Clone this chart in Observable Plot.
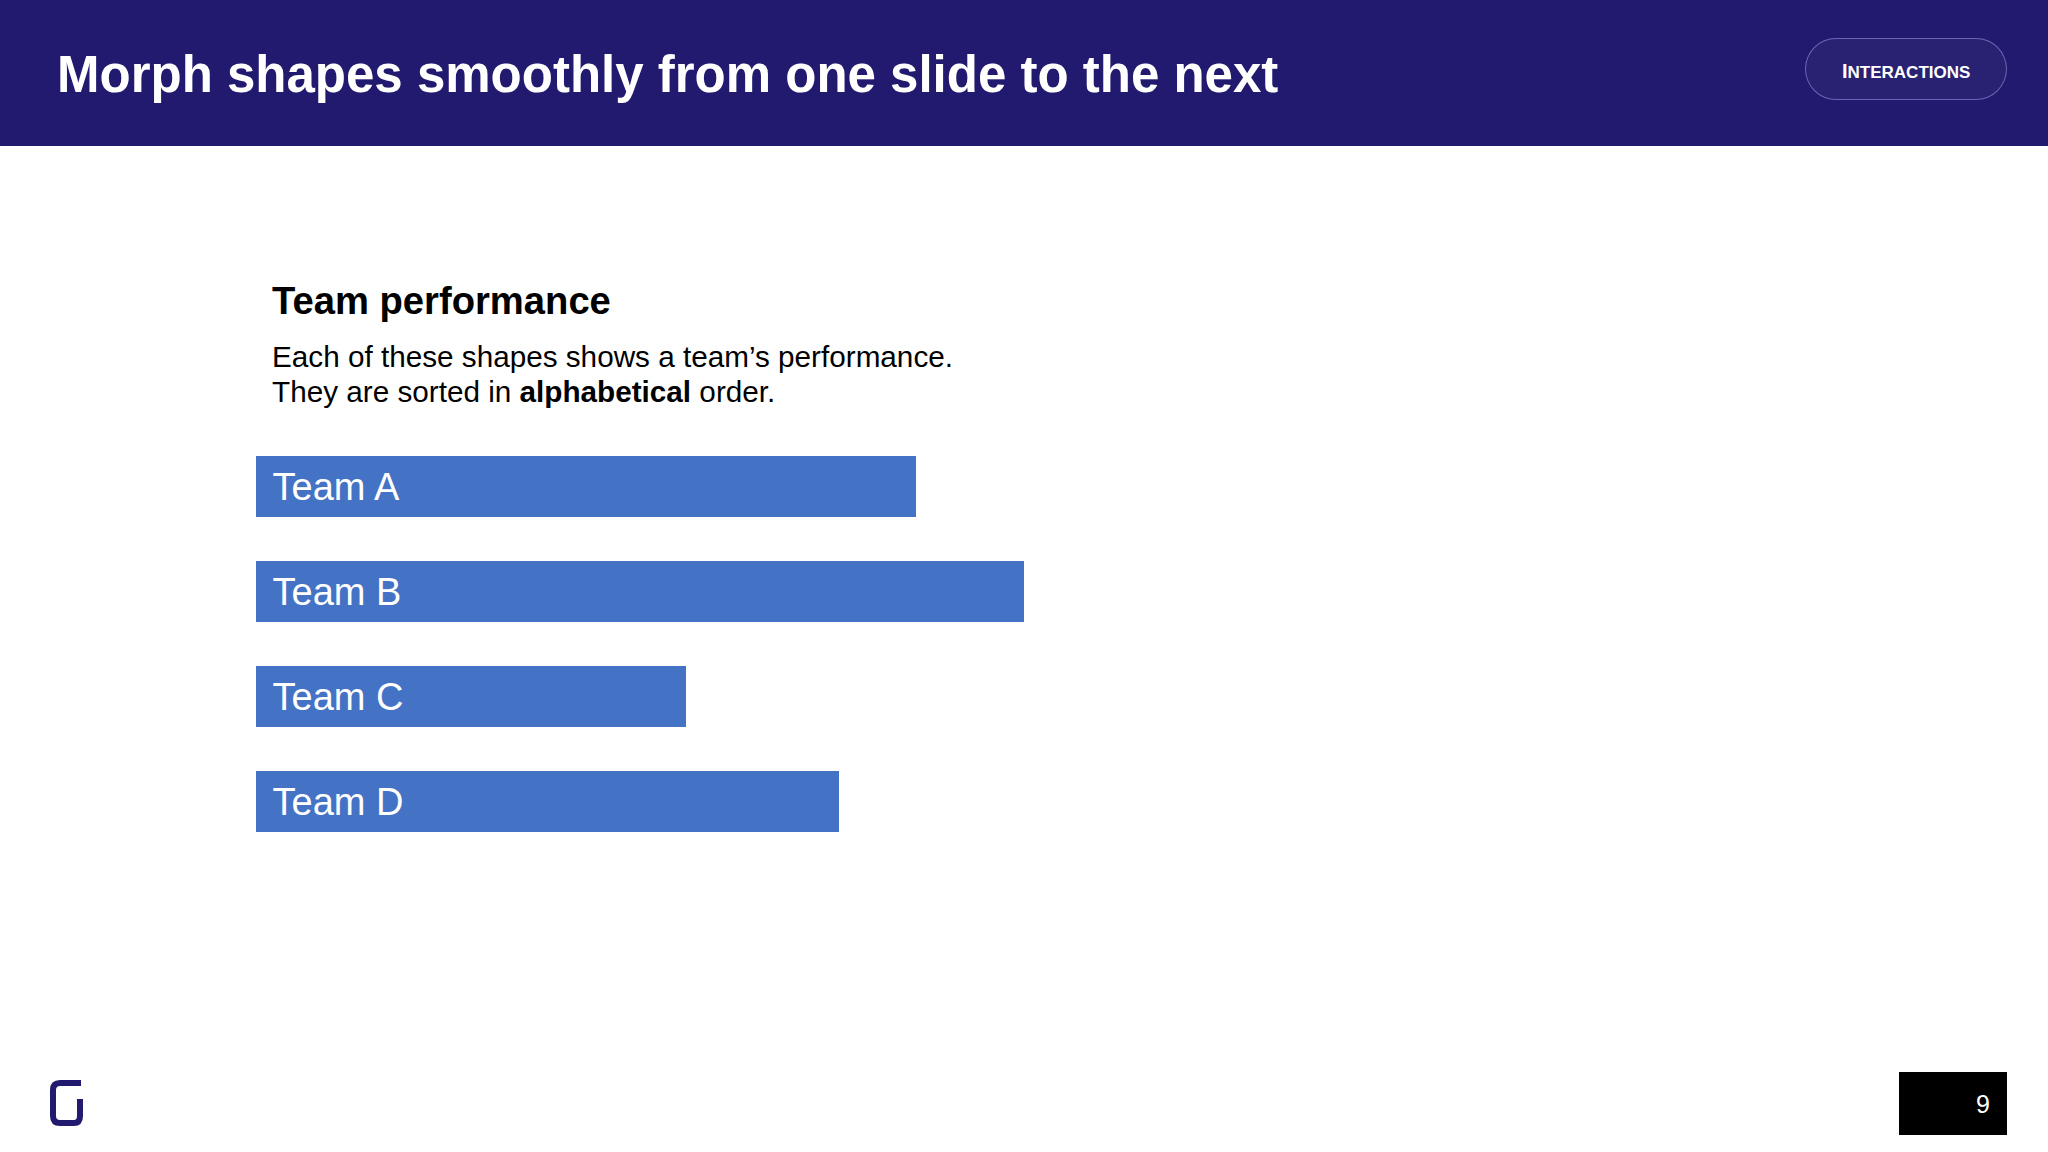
<!DOCTYPE html>
<html>
<head>
<meta charset="utf-8">
<script src="https://cdn.jsdelivr.net/npm/d3@7"></script>
<script src="https://cdn.jsdelivr.net/npm/@observablehq/plot@0.6"></script>
<style>
  html, body { margin: 0; padding: 0; background: #fff; }
  body { width: 2048px; height: 1152px; position: relative; overflow: hidden; font-family: "Liberation Sans", Arial, sans-serif; }
  #header { position: absolute; left: 0; top: 0; width: 2048px; height: 146px; background: #211a6e; }
  #title { position: absolute; left: 57px; top: 45px; font-size: 51px; font-weight: bold; color: #fff; line-height: 60px; white-space: nowrap; }
  #pill { position: absolute; left: 1805px; top: 38px; width: 202px; height: 62px; border-radius: 31px; border: 1px solid rgba(190,180,255,0.45); background: rgba(255,255,255,0.04); box-sizing: border-box; }
  #pilltext { position: absolute; left: 1842px; top: 59px; color: #fff; font-weight: bold; white-space: nowrap; line-height: 24px; }
  #pilltext .big { font-size: 20px; }
  #pilltext .small { font-size: 17px; }
  #subtitle { position: absolute; left: 272px; top: 279px; font-size: 38.2px; font-weight: bold; color: #000; line-height: 44px; white-space: nowrap; }
  #desc { position: absolute; left: 272px; top: 339px; font-size: 29.7px; color: #000; line-height: 35px; white-space: nowrap; }
  #chart { position: absolute; left: 0; top: 440px; }
  #pagebox { position: absolute; left: 1899px; top: 1072px; width: 108px; height: 63px; background: #000; }
  #pagenum { position: absolute; right: 58px; top: 1089px; color: #fff; font-size: 25px; line-height: 30px; }
</style>
</head>
<body>
<div id="header"></div>
<div id="title">Morph shapes smoothly from one slide to the next</div>
<div id="pill"></div>
<div id="pilltext"><span class="big">I</span><span class="small">NTERACTIONS</span></div>
<div id="subtitle">Team performance</div>
<div id="desc">Each of these shapes shows a team’s performance.<br>They are sorted in <b>alphabetical</b> order.</div>
<div id="chart"></div>
<div id="pagebox"></div>
<div id="pagenum">9</div>
<svg id="logo" width="120" height="1152" style="position:absolute;left:0;top:0;">
  <path d="M 81 1083 H 60 Q 53 1083 53 1090 V 1116 Q 53 1123 60 1123 H 74 Q 80 1123 80 1116 V 1099" fill="none" stroke="#211a6e" stroke-width="6"/>
</svg>
<script>
const teams = ["Team A", "Team B", "Team C", "Team D"];
const values = [66.0, 76.8, 43.0, 58.3];

const data = teams.map((t, i) => ({team: t, value: values[i]}));

const chart = Plot.plot({
  width: 1300,
  height: 410,
  margin: 0,
  style: {background: "transparent", fontFamily: "'Liberation Sans', Arial, sans-serif"},
  x: {domain: [0, 100], range: [256, 1256], axis: null},
  y: {domain: teams, range: [16, 392], paddingInner: 0.42, paddingOuter: 0, axis: null},
  marks: [
    Plot.barX(data, {x: "value", y: "team", fill: "#4472c4"}),
    Plot.text(data, {x: 0, y: "team", text: "team", dx: 16, dy: 1, textAnchor: "start", fill: "#fff", fontSize: 38})
  ]
});
document.getElementById("chart").appendChild(chart);
</script>
</body>
</html>
